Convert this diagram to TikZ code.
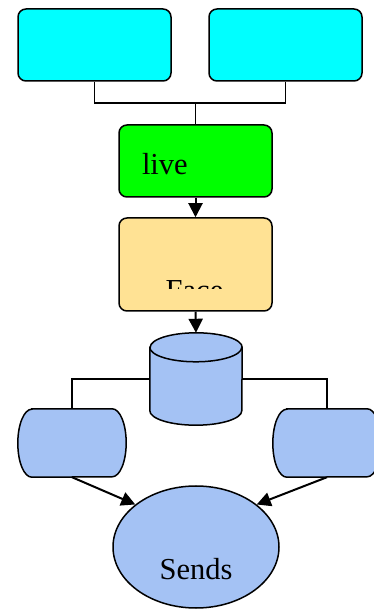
\documentclass[tikz,border=0pt]{standalone}
\usepackage{fontspec}
\setmainfont{Liberation Serif}
\usetikzlibrary{arrows.meta,shapes.geometric}
\definecolor{cyanfill}{HTML}{00FFFF}
\definecolor{greenfill}{HTML}{00FF00}
\definecolor{tanfill}{HTML}{FFE294}
\definecolor{bluefill}{HTML}{A4C2F4}
\tikzset{
  box/.style={draw=black, line width=1.5pt, rounded corners=8pt, minimum width=153pt, inner sep=0pt},
  link/.style={draw=black, line width=1.5pt},
  arr/.style={draw=black, line width=2pt, -{Triangle[length=14pt,width=14pt]}},
  shapefill/.style={draw=black, line width=1.5pt, fill=bluefill},
  lbl/.style={font=\fontsize{30.5pt}{36pt}\selectfont}
}
\begin{document}
\begin{tikzpicture}[x=1pt,y=1pt]
\useasboundingbox (0,0) rectangle (373,611);
% top boxes
\node[box, fill=cyanfill, minimum height=72pt] (c1) at (94.5,566) {};
\node[box, fill=cyanfill, minimum height=72pt] (c2) at (285.5,566) {};
\node[box, fill=greenfill, minimum height=72pt, text width=107pt, inner xsep=23pt, align=left, lbl, text height=28pt, text depth=0pt] (live) at (195.5,450) {live};
\coordinate (j) at (195.5,508);
\draw[link] (c1.south) |- (j) -- (live.north);
\draw[link] (c2.south) |- (j);
% face box
\node[box, fill=tanfill, minimum height=93pt] (face) at (195.5,346.5) {};
\begin{scope}
\clip (119,322) rectangle (272,393);
\node[lbl, anchor=base, inner sep=0pt] (facetxt) at (194.5,310) {Face};
\end{scope}
\draw[arr] (live.south) -- (face.north);
% cylinder
\node[minimum width=92pt, minimum height=92pt, inner sep=0pt] (cyl) at (196,232) {};
\draw[shapefill] ([yshift=-14.5pt]cyl.north west) -- ([yshift=14.5pt]cyl.south west)
  arc (180:360:46pt and 14.5pt) -- ([yshift=-14.5pt]cyl.north east)
  arc (0:180:46pt and 14.5pt) -- cycle;
\draw[link] ([yshift=-14.5pt]cyl.north west) arc (180:360:46pt and 14.5pt);
\draw[arr] (face.south) -- (cyl.north);
% capsules
\node[minimum width=108pt, minimum height=68pt, inner sep=0pt] (lc) at (72,168) {};
\node[minimum width=108pt, minimum height=68pt, inner sep=0pt] (rc) at (327,168) {};
\foreach \n in {lc,rc}{
  \draw[shapefill] ([xshift=14pt]\n.north west) -- ([xshift=-14pt]\n.north east)
    arc (90:-90:14pt and 34pt) -- ([xshift=14pt]\n.south west)
    arc (270:90:14pt and 34pt) -- cycle;
}
\draw[link] (cyl.west) -| (lc.north);
\draw[link] (cyl.east) -| (rc.north);
% ellipse
\node[ellipse, shapefill, minimum width=166pt, minimum height=122pt, inner sep=0pt, lbl, text height=66pt, text depth=0pt] (snd) at (196,64) {Sends};
\draw[arr] (lc.south) -- (snd.145);
\draw[arr] (rc.south) -- (snd.35);
\end{tikzpicture}
\end{document}
